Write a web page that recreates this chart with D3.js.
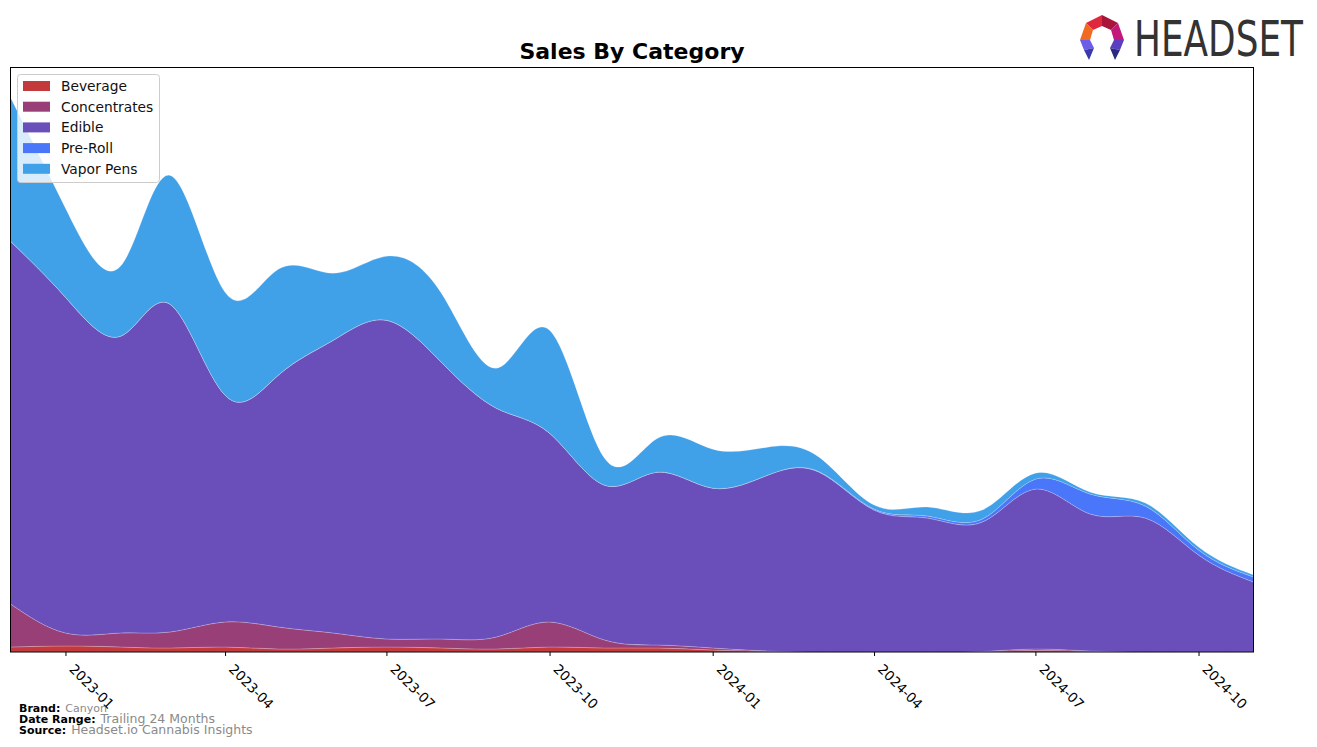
<!DOCTYPE html>
<html>
<head>
<meta charset="utf-8">
<script src="https://cdn.jsdelivr.net/npm/d3@7"></script>
<style>
  html, body { margin: 0; padding: 0; background: #fff; }
  svg { display: block; font-family: "DejaVu Sans", sans-serif; }
</style>
</head>
<body>
<svg id="chart" width="1317" height="747"></svg>
<script>
// ---- data (relative sales units) ----
const months = ["2022-12","2023-01","2023-02","2023-03","2023-04","2023-05","2023-06","2023-07",
  "2023-08","2023-09","2023-10","2023-11","2023-12","2024-01","2024-02","2024-03",
  "2024-04","2024-05","2024-06","2024-07","2024-08","2024-09","2024-10","2024-11"];
const beverage     = [5,6,5,4,5,3,4,5,4,3,5,4,4,2,0.5,0,0,0,0.5,1.5,0.5,0,0,0];
const concentrates = [43,13,14,16,25,22,15,8,9,12,25,8,3,2,0.5,0,0,0,0,1.5,0.5,0,0,0];
const edible       = [363,336,297,328,227,252,293,319,277,229,189,155,173,160,176,180,142,134,129.5,160,137,134,97,70];
const preRoll      = [0,0,0,0,0,0,0,0,0,0,0,0,0,0,0,0.5,1,2,3,10,20,12,5,5];
const vaporPens    = [144,89,70,129,103,106,67,64,69,40,103,27,34,39,28,14.5,4,9,9,6,2,3,3,2];
const categories   = ["Beverage","Concentrates","Edible","Pre-Roll","Vapor Pens"];
const colors       = ["#c4393c","#983f77","#6a4fbb","#4a76fa","#40a0e8"];
const tickLabels   = ["2023-01","2023-04","2023-07","2023-10","2024-01","2024-04","2024-07","2024-10"];

(function () {
const series = [beverage, concentrates, edible, preRoll, vaporPens];
const parse = d3.timeParse("%Y-%m");
const table = months.map((m, i) => {
  const row = { date: parse(m) };
  categories.forEach((c, k) => row[c] = series[k][i]);
  return row;
});

const svg = d3.select("#chart");
const pl = 10.5, pr = 1253.5, pt = 67.5, pb = 652;

const x = d3.scaleTime().domain([parse(months[0]), parse(months[months.length - 1])]).range([pl, pr]);
const maxTotal = d3.max(table, d => d3.sum(categories, c => d[c]));
const y = d3.scaleLinear().domain([0, maxTotal * 1.054]).range([pb, pt]);

const stacked = d3.stack().keys(categories)(table);

svg.append("defs").append("clipPath").attr("id", "clip")
  .append("rect").attr("x", pl).attr("y", pt).attr("width", pr - pl).attr("height", pb - pt);

const area = d3.area()
  .x(d => x(d.data.date))
  .y0(d => y(d[0]))
  .y1(d => y(d[1]))
  .curve(d3.curveNatural);

svg.append("g").attr("clip-path", "url(#clip)")
  .selectAll("path").data(stacked).join("path")
  .attr("d", area)
  .attr("fill", (d, i) => colors[i])
  .attr("stroke", "rgba(255,255,255,0.25)")
  .attr("stroke-width", 0.8);

// frame
svg.append("rect").attr("x", pl).attr("y", pt).attr("width", pr - pl).attr("height", pb - pt)
  .attr("fill", "none").attr("stroke", "#000").attr("stroke-width", 1);

// x axis
const xAxis = d3.axisBottom(x)
  .tickValues(tickLabels.map(parse))
  .tickFormat(d3.timeFormat("%Y-%m"))
  .tickSize(4).tickPadding(3);
const gx = svg.append("g").attr("transform", `translate(0,${pb})`).call(xAxis);
gx.select(".domain").remove();
gx.selectAll(".tick line").attr("stroke", "#000");
gx.selectAll(".tick text")
  .attr("font-size", 13.5).attr("font-family", "DejaVu Sans, sans-serif").attr("fill", "#000")
  .attr("text-anchor", "start")
  .attr("x", 0).attr("y", 0).attr("dy", 0).attr("dx", 0)
  .attr("transform", "translate(2.5,18) rotate(45)");

// title
svg.append("text").attr("x", (pl + pr) / 2).attr("y", 59)
  .attr("text-anchor", "middle").attr("font-size", 22).attr("font-weight", "bold")
  .text("Sales By Category");

// legend
const lg = svg.append("g");
lg.append("rect").attr("x", 17.5).attr("y", 74.5).attr("width", 142).attr("height", 108)
  .attr("rx", 3).attr("fill", "#fff").attr("fill-opacity", 0.8).attr("stroke", "#cccccc");
categories.forEach((c, i) => {
  const cy = 86 + i * 20.7;
  lg.append("rect").attr("x", 23).attr("y", cy - 5).attr("width", 27).attr("height", 10).attr("fill", colors[i]);
  lg.append("text").attr("x", 61).attr("y", cy + 5).attr("font-size", 13.8).attr("fill", "#111").text(c);
});

// footer
const foot = [["Brand:", "Canyon", 11], ["Date Range:", "Trailing 24 Months", 12.5], ["Source:", "Headset.io Cannabis Insights", 12.5]];
foot.forEach((f, i) => {
  const ty = 712 + i * 11;
  const t = svg.append("text").attr("x", 19).attr("y", ty);
  t.append("tspan").attr("font-weight", "bold").attr("font-size", 11).attr("fill", "#000").text(f[0]);
  t.append("tspan").attr("dx", 5).attr("font-size", f[2]).attr("fill", "#8a8a8a").text(f[1]);
});

// HEADSET logo
const logo = svg.append("g").attr("transform", "translate(1080,14)");
const pts = [
  [[6,9],[22,1],[22,12],[13,16]],
  [[22,1],[38,9],[31,16],[22,12]],
  [[38,9],[44,26],[34,26],[31,16]],
  [[6,9],[13,16],[10,26],[0,26]],
  [[0,26],[10,26],[14,34],[4,36]],
  [[44,26],[34,26],[30,34],[40,36]],
  [[4,36],[14,34],[9,46]],
  [[40,36],[30,34],[35,46]]
];
const logoCols = ["#e0283c","#a8143c","#c4177a","#f06a22","#6c5ce7","#5a3fc0","#3a3aa8","#2a2a80"];
pts.forEach((p, i) => logo.append("polygon").attr("points", p.map(q => q.join(",")).join(" ")).attr("fill", logoCols[i]));
svg.append("text").attr("x", 0).attr("y", 0).attr("font-size", 40)
  .attr("transform", "translate(1134,56) scale(1,1.23)")
  .attr("font-family", "DejaVu Sans Condensed, DejaVu Sans, sans-serif")
  .attr("fill", "#333").attr("textLength", 169).attr("lengthAdjust", "spacingAndGlyphs")
  .text("HEADSET");
})();
</script>
</body>
</html>
